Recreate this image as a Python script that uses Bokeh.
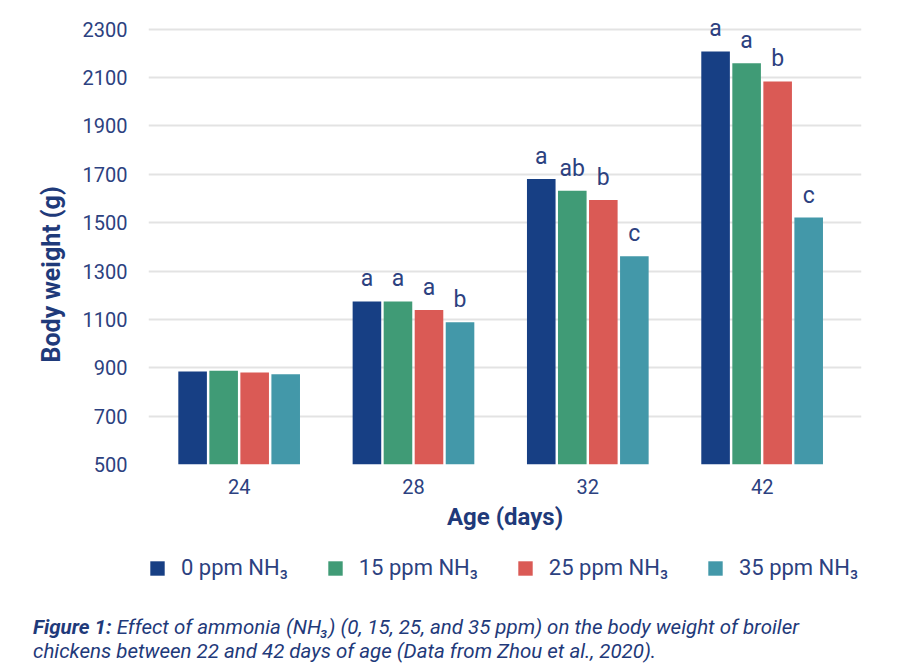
from bokeh.plotting import figure
from bokeh.layouts import column
from bokeh.models import (ColumnDataSource, Range1d, FixedTicker, Legend, LegendItem, Div, Title)
from bokeh.transform import dodge
from bokeh.core.properties import value
from bokeh.embed import file_html
from bokeh.resources import INLINE

# ---- data ----
ages = ["24", "28", "32", "42"]
series_names = ["0 ppm NH\u2083", "15 ppm NH\u2083", "25 ppm NH\u2083", "35 ppm NH\u2083"]
w0 = [885, 1174, 1680, 2208]
w15 = [888, 1174, 1632, 2159]
w25 = [880, 1139, 1594, 2084]
w35 = [873, 1088, 1361, 1521]
sig0 = ["", "a", "a", "a"]
sig15 = ["", "a", "ab", "a"]
sig25 = ["", "a", "b", "b"]
sig35 = ["", "b", "c", "c"]
y_ticks = [500, 700, 900, 1100, 1300, 1500, 1700, 1900, 2100, 2300]
caption_bold = "Figure 1:"
caption_line1 = "Effect of ammonia (NH\u2083) (0, 15, 25, and 35 ppm) on the body weight of broiler"
caption_line2 = "chickens between 22 and 42 days of age (Data from Zhou et al., 2020)."

colors = ["#173f84", "#409b76", "#da5a55", "#4398a9"]
TEXT = "#2c4180"
LABEL = "#1f3a7a"
FONT = "Roboto"

W = 900
H1 = 545
H2 = 50
H3 = 672 - H1 - H2

pos = list(range(len(ages)))
src = ColumnDataSource(dict(x=pos, w0=w0, w15=w15, w25=w25, w35=w35,
                            s0=sig0, s15=sig15, s25=sig25, s35=sig35))

p = figure(width=W, height=H1, output_backend="svg", toolbar_location=None,
           x_range=Range1d(-0.52, 3.57), y_range=Range1d(500, 2340),
           min_border_left=148, min_border_right=39, min_border_top=19,
           min_border_bottom=H1 - 464)
p.outline_line_color = None
p.background_fill_color = "white"
p.border_fill_color = "white"

pitch = 0.178
bw = 0.164
cols = [("w0", "s0"), ("w15", "s15"), ("w25", "s25"), ("w35", "s35")]
for i, (col, scol) in enumerate(cols):
    off = (i - 1.5) * pitch
    p.vbar(x=dodge("x", off, range=p.x_range), top=col, bottom=500, width=bw,
           source=src, fill_color=colors[i], line_color=None)
    p.text(x=dodge("x", off, range=p.x_range), y=col, text=scol, source=src,
           text_align="center", text_baseline="bottom", y_offset=-9,
           text_font=value(FONT), text_font_size="23px", text_color=TEXT)

# axes
p.xaxis.ticker = FixedTicker(ticks=pos)
p.xaxis.major_label_overrides = {i: a for i, a in enumerate(ages)}
p.yaxis.ticker = FixedTicker(ticks=y_ticks)
for ax in (p.xaxis[0], p.yaxis[0]):
    ax.axis_line_color = None
    ax.major_tick_line_color = None
    ax.minor_tick_line_color = None
    ax.major_tick_out = 0
    ax.major_tick_in = 0
    ax.minor_tick_out = 0
    ax.minor_tick_in = 0
    ax.major_label_text_font = FONT
    ax.major_label_text_font_size = "20px"
    ax.major_label_text_color = TEXT
    ax.axis_label_text_font = FONT
    ax.axis_label_text_font_size = "24px"
    ax.axis_label_text_font_style = "bold"
    ax.axis_label_text_color = LABEL
p.xaxis.axis_label = "Age (days)"
p.xaxis.major_label_standoff = 14
p.xaxis.axis_label_standoff = 6
p.yaxis.major_label_standoff = 21

# y-axis title: starts ~102px above the frame bottom, as in the reference
p.add_layout(Title(text="Body weight (g)", align="left", offset=102, standoff=28,
                   text_font=FONT, text_font_size="25px", text_font_style="bold",
                   text_color=LABEL), "left")

p.xgrid.grid_line_color = None
p.ygrid.ticker = FixedTicker(ticks=y_ticks)
p.ygrid.grid_line_color = "#e3e3e3"
p.ygrid.grid_line_width = 2

# ---- legend strip (degenerate copies of the series; only the legend shows) ----
q = figure(width=W, height=H2, output_backend="svg", toolbar_location=None,
           x_range=Range1d(50, 51), y_range=Range1d(5000, 6000),
           x_axis_type=None, y_axis_type=None,
           min_border_left=148, min_border_right=39, min_border_top=0, min_border_bottom=0)
q.outline_line_color = None
q.grid.grid_line_color = None
q.background_fill_color = "white"
q.border_fill_color = "white"
leg_r = []
for i, (col, _) in enumerate(cols):
    leg_r.append(q.vbar(x="x", top=col, bottom=col, width=0,
                        source=src, fill_color=colors[i], line_color=None))

legend = Legend(items=[LegendItem(label=n, renderers=[r]) for n, r in zip(series_names, leg_r)],
                location=(0, 15), orientation="horizontal",
                glyph_width=18, glyph_height=18, label_standoff=15, spacing=38,
                padding=0, margin=0, border_line_color=None, background_fill_alpha=0,
                label_text_font=FONT, label_text_font_size="22px", label_text_color=TEXT)
q.add_layout(legend)

caption_html = (
    f'<div style="font-family:Roboto; font-size:20.5px; line-height:24px; color:{LABEL}; '
    f'font-style:italic; white-space:nowrap; padding:15px 0 0 28px; margin:0;">'
    f'<b>{caption_bold}</b> {caption_line1}<br>{caption_line2}</div>'
)
cap = Div(text=caption_html, width=W - 10, height=H3 - 10)

layout = column(p, q, cap, spacing=0)
open("out.html", "w").write(file_html(layout, INLINE))
